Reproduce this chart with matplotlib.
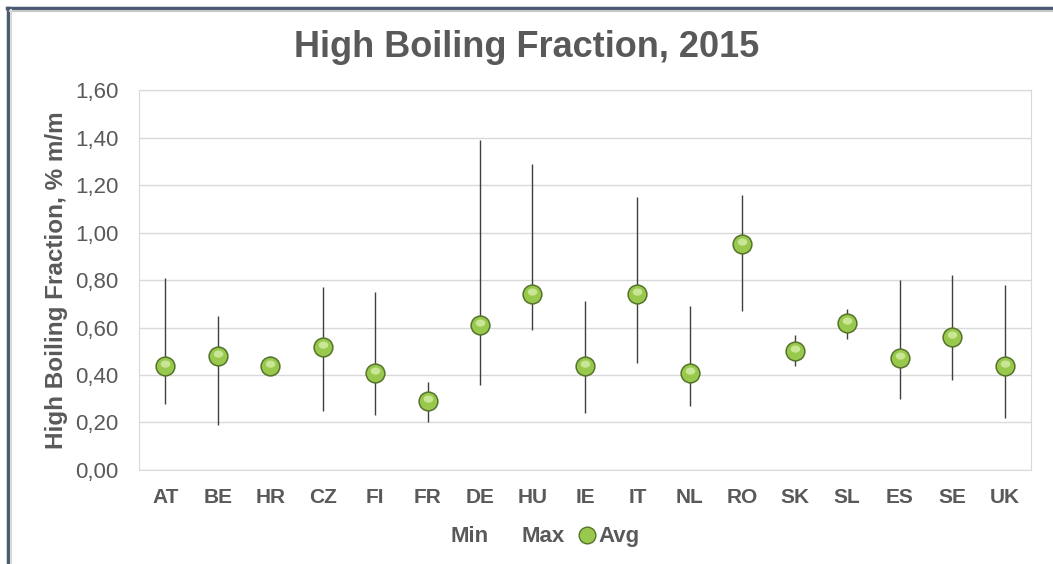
# plot.py
# High boiling fraction per country, 2015 (min / max range with average)
import matplotlib.pyplot as plt
import numpy as np
from matplotlib.lines import Line2D
from matplotlib.path import Path

# data
countries = ['AT', 'BE', 'HR', 'CZ', 'FI', 'FR', 'DE', 'HU', 'IE',
             'IT', 'NL', 'RO', 'SK', 'SL', 'ES', 'SE', 'UK']
min_vals = [0.28, 0.19, 0.40, 0.25, 0.23, 0.20, 0.36, 0.59, 0.24,
            0.45, 0.27, 0.67, 0.44, 0.55, 0.30, 0.38, 0.22]
max_vals = [0.81, 0.65, 0.48, 0.77, 0.75, 0.37, 1.39, 1.29, 0.71,
            1.15, 0.69, 1.16, 0.57, 0.68, 0.80, 0.82, 0.78]
avg_vals = [0.44, 0.48, 0.44, 0.52, 0.41, 0.29, 0.61, 0.74, 0.44,
            0.74, 0.41, 0.95, 0.50, 0.62, 0.47, 0.56, 0.44]
y_ticks = [0.0, 0.2, 0.4, 0.6, 0.8, 1.0, 1.2, 1.4, 1.6]

txt = '#595959'
plt.rcParams['font.family'] = ['Liberation Sans', 'DejaVu Sans']

fig = plt.figure(figsize=(10.53, 5.64), dpi=100)
ax = fig.add_axes([0.132, 0.1667, 0.847, 0.6735])

x = np.arange(len(countries))

# min-max range lines
ax.vlines(x, min_vals, max_vals, color='#3f3f3f', lw=1.0, zorder=2)

# highlight shape for the "sphere" look (ellipse near the top of the marker)
t = np.linspace(0, 2 * np.pi, 40)
hl = np.column_stack([0.6 * np.cos(t), 0.3 + 0.45 * np.sin(t)])
hl_path = Path(np.vstack([hl, [[0, -1.0]]]),
               [Path.MOVETO] + [Path.LINETO] * 39 + [Path.MOVETO])

ax.plot(x, avg_vals, 'o', ms=13.5, mfc='#98c84c', mec='#55732a', mew=1.1,
        ls='none', zorder=3)
ax.plot(x, avg_vals, marker=hl_path, ms=11.5, mfc='#cfeaa0', mec='none',
        ls='none', zorder=4, alpha=0.9)

ax.set_xlim(-0.5, len(countries) - 0.5)
ax.set_ylim(0, 1.6)
ax.set_yticks(y_ticks)
ax.set_yticklabels([f'{v:.2f}'.replace('.', ',') for v in y_ticks])
ax.set_xticks(x)
ax.set_xticklabels(countries, fontweight='bold')
ax.tick_params(axis='y', length=0, pad=15, labelsize=16, labelcolor=txt)
ax.tick_params(axis='x', length=0, pad=13, labelsize=15, labelcolor=txt)

ax.grid(axis='y', color='#d9d9d9', lw=1)
ax.set_axisbelow(True)
for s in ax.spines.values():
    s.set_color('#d9d9d9')

ax.set_ylabel('High Boiling Fraction, % m/m', fontsize=17.5, color=txt,
              fontweight='bold', labelpad=5)
fig.suptitle('High Boiling Fraction, 2015', fontsize=26, fontweight='bold',
             color=txt, y=0.915, va='center')

# legend: Min and Max have no visible marker
handles = [Line2D([], [], ls='none', marker=None),
           Line2D([], [], ls='none', marker=None),
           Line2D([], [], ls='none', marker='o', ms=12, mfc='#98c84c',
                  mec='#55732a')]
fig.legend(handles, ['Min', 'Max', 'Avg'], loc='center', ncol=3,
           bbox_to_anchor=(0.508, 0.048), frameon=False, handlelength=0.8,
           handletextpad=0.1, columnspacing=0.6,
           prop={'weight': 'bold', 'size': 16}, labelcolor=txt)

# outer frame of the chart object
fig.add_artist(Line2D([7 / 1053, 1052 / 1053], [1 - 8 / 564] * 2,
                      color='#4a5a72', lw=2.5, transform=fig.transFigure))
fig.add_artist(Line2D([8 / 1053] * 2, [0, 1 - 8 / 564],
                      color='#4a5a72', lw=2.5, transform=fig.transFigure))
fig.add_artist(Line2D([10 / 1053, 1052 / 1053], [1 - 10.5 / 564] * 2,
                      color='#c8c8c8', lw=1.5, transform=fig.transFigure))
fig.add_artist(Line2D([10.5 / 1053] * 2, [0, 1 - 10 / 564],
                      color='#d8d8d8', lw=1.5, transform=fig.transFigure))

fig.savefig('out.png', dpi=100)
